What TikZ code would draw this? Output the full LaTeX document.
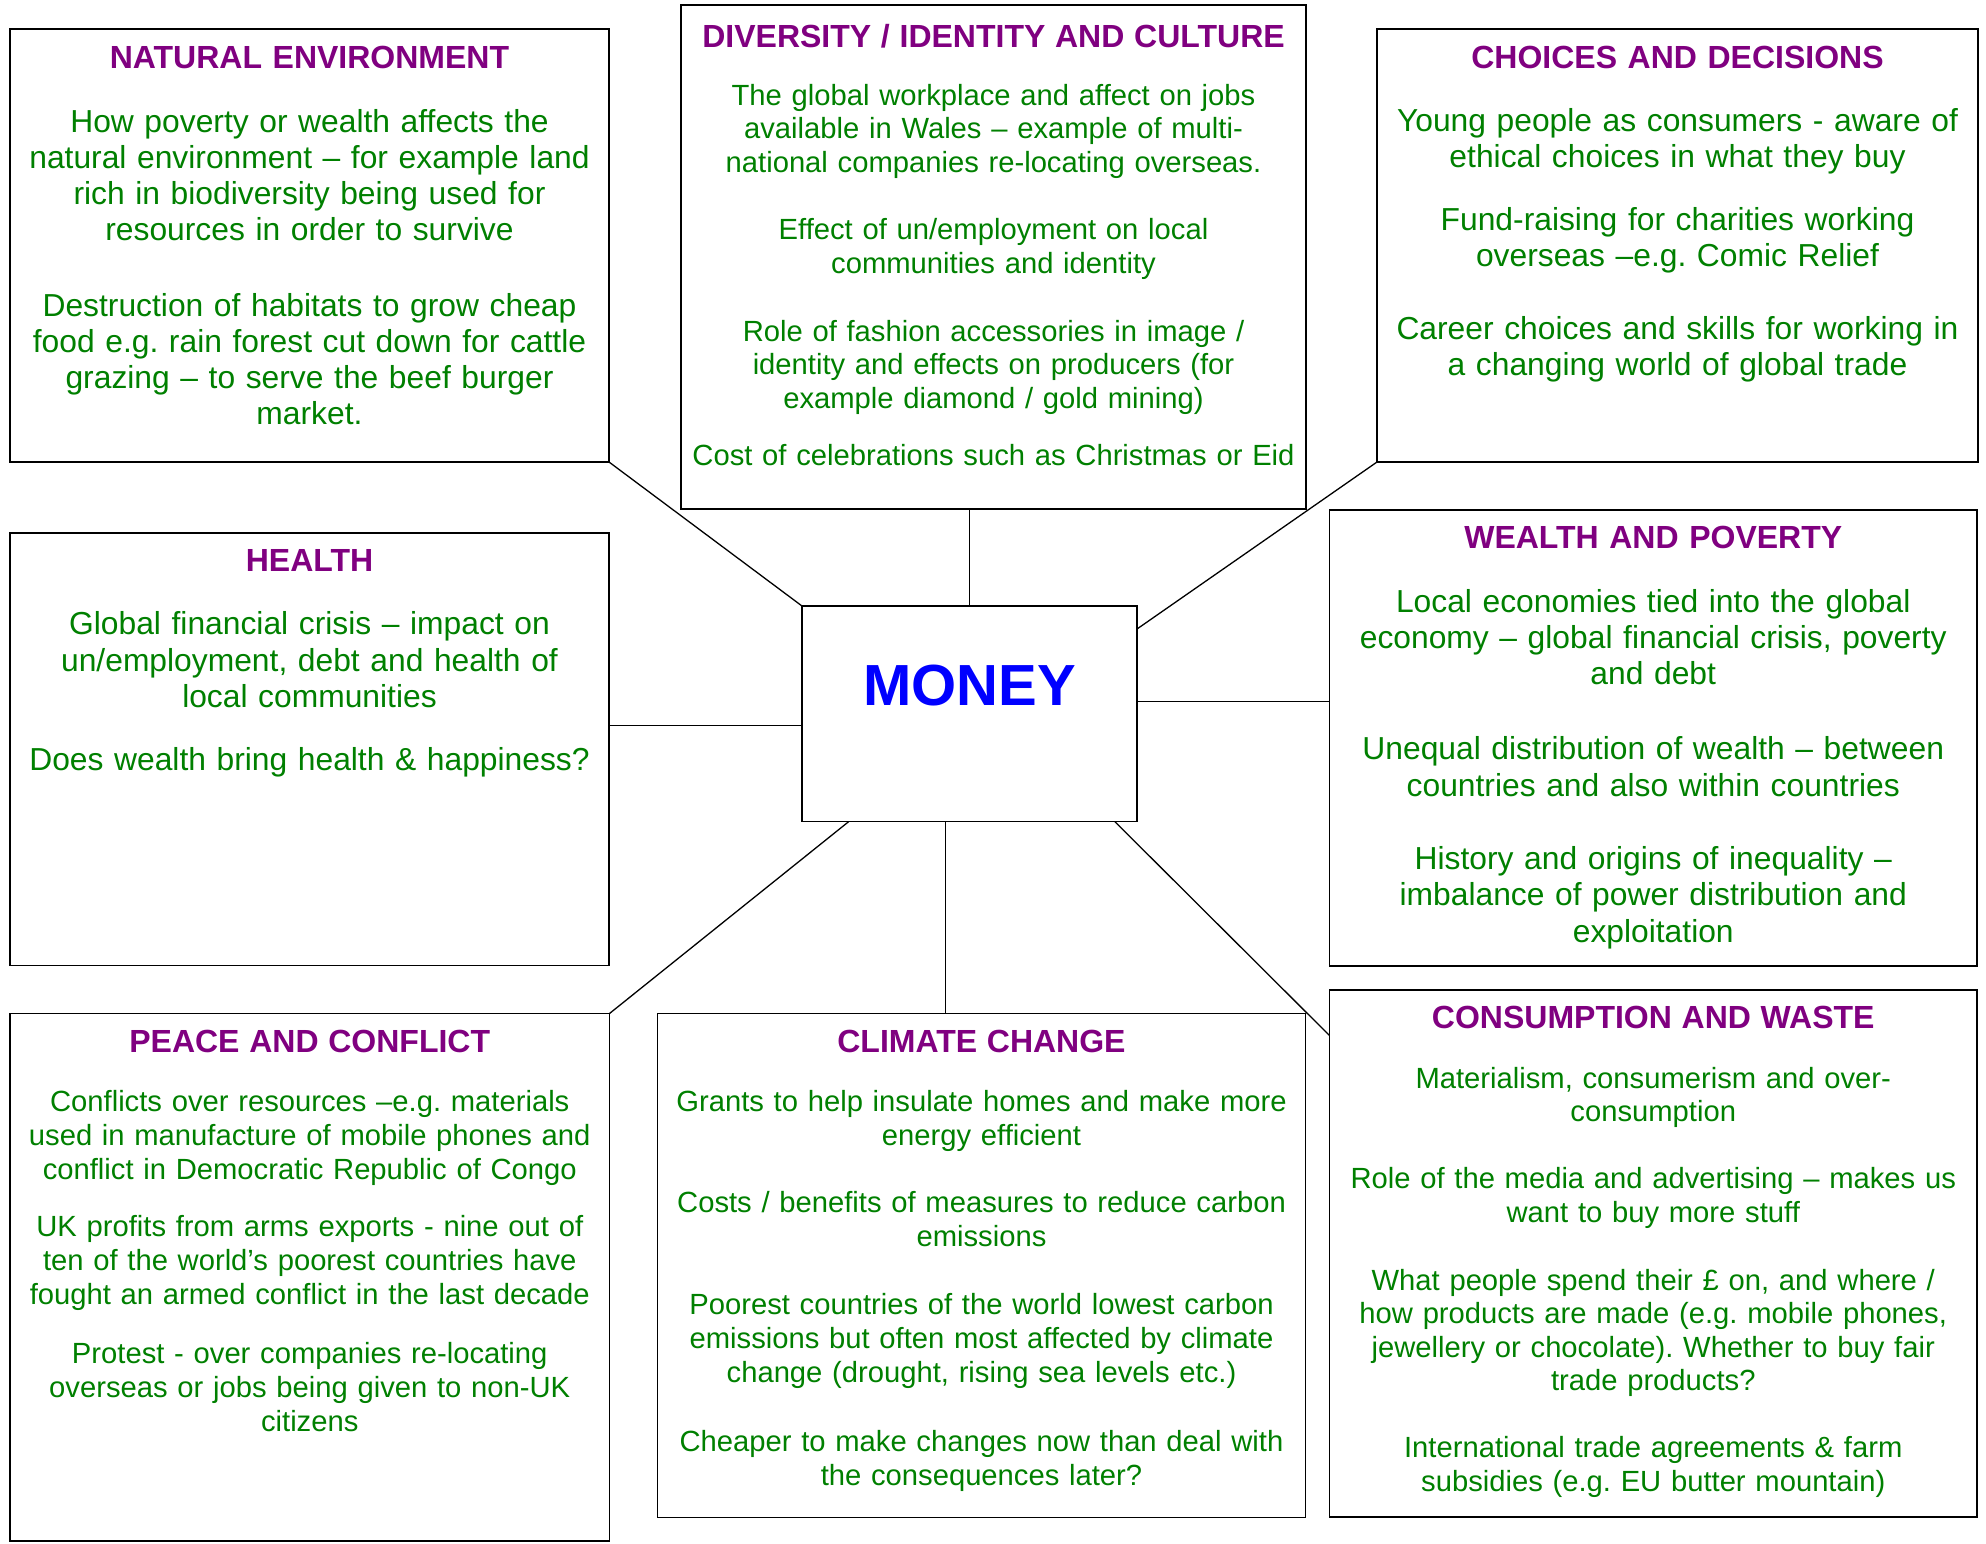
\documentclass[tikz,border=0pt]{standalone}
\usepackage{fontspec}
\setmainfont{Liberation Sans}
\definecolor{titlepurple}{HTML}{800080}
\definecolor{bodygreen}{HTML}{008000}
\definecolor{moneyblue}{HTML}{0000FF}
\newcommand{\topictitle}[1]{{\fontsize{16}{18}\selectfont\bfseries\color{titlepurple}#1}}
\newcommand{\bigbody}{\fontsize{15.9}{18.1}\selectfont}
\newcommand{\smallbody}{\fontsize{14.6}{16.8}\selectfont}
\frenchspacing

\tikzset{
  topic/.style={draw, line width=0.8pt, inner sep=0pt, outer sep=0pt},
  topictext/.style={anchor=north, align=center, inner sep=0pt, text=bodygreen},
  link/.style={line width=0.65pt},
}

\begin{document}
\begin{tikzpicture}[x=0.5pt,y=-0.5pt]
\fill[white] (0,0) rectangle (1986,1543);
\useasboundingbox (0,0) rectangle (1986,1543);

% boxes
\node[topic, minimum width=299.5pt, minimum height=216.5pt] (nature) at (309.5,245.5) {};
\node[topic, minimum width=312.5pt, minimum height=252pt] (diversity) at (993.5,257) {};
\node[topic, minimum width=300.5pt, minimum height=216.5pt] (choices) at (1677.5,245.5) {};
\node[topic, minimum width=299.5pt, minimum height=216.25pt] (health) at (309.5,749.25) {};
\node[topic, minimum width=167.5pt, minimum height=107.8pt] (money) at (969.5,713.8) {};
\node[topic, minimum width=323.75pt, minimum height=227.85pt] (wealth) at (1653.25,737.85) {};
\node[topic, minimum width=299.75pt, minimum height=263.75pt] (peace) at (309.75,1277.25) {};
\node[topic, minimum width=324pt, minimum height=252pt] (climate) at (981.5,1265.5) {};
\node[topic, minimum width=323.75pt, minimum height=263.65pt] (consumption) at (1653.25,1253.35) {};

\node[text=moneyblue, font=\fontsize{29}{34}\selectfont\bfseries] (moneylabel) at ([yshift=13.9pt]money.center) {MONEY};

% spokes
\coordinate (healthjoin) at ([yshift=-5.85pt]money.west);
\coordinate (wealthjoin) at ([yshift=6pt]money.east);
\coordinate (climatejoin) at ([xshift=-12pt]money.south);
\draw[link] (nature.south east) -- (money.north west);
\draw[link] (money.north) -- (money.north |- diversity.south);
\draw[link] (choices.south west) -- ([yshift=-11.5pt]money.north east);
\draw[link] (healthjoin) -- (healthjoin -| health.east);
\draw[link] (wealthjoin) -- (wealthjoin -| wealth.west);
\draw[link] ([xshift=23.35pt]money.south west) -- (peace.north east);
\draw[link] (climatejoin) -- (climatejoin |- climate.north);
\draw[link] ([xshift=-11.1pt]money.south east) -- ([yshift=-22.9pt]consumption.north west);

% texts
\node[topictext, text width=290pt, font=\bigbody] (naturetext) at ([yshift=-8.3pt]nature.north) {\topictitle{NATURAL ENVIRONMENT}\\[13.9pt]
How poverty or wealth affects the\\
natural environment – for example land\\
rich in biodiversity being used for\\
resources in order to survive\\[19.5pt]
Destruction of habitats to grow cheap\\
food e.g. rain forest cut down for cattle\\
grazing – to serve the beef burger\\
market.};

\node[topictext, text width=306pt, font=\fontsize{14.6}{16.7}\selectfont] (diversitytext) at ([yshift=-9.3pt]diversity.north) {\topictitle{DIVERSITY / IDENTITY AND CULTURE}\\[12.4pt]
The global workplace and affect on jobs\\
available in Wales – example of multi-\\
national companies re-locating overseas.\\[17.1pt]
Effect of un/employment on local\\
communities and identity\\[17.5pt]
Role of fashion accessories in image /\\
identity and effects on producers (for\\
example diamond / gold mining)\\[12.1pt]
Cost of celebrations such as Christmas or Eid};

\node[topictext, text width=294pt, font=\fontsize{15.9}{17.8}\selectfont] (choicestext) at ([yshift=-8.3pt]choices.north) {\topictitle{CHOICES AND DECISIONS}\\[14pt]
Young people as consumers - aware of\\
ethical choices in what they buy\\[13.9pt]
Fund-raising for charities working\\
overseas –e.g. Comic Relief\\[18.9pt]
Career choices and skills for working in\\
a changing world of global trade};

\node[topictext, text width=290pt, font=\bigbody] (healthtext) at ([yshift=-8.1pt]health.north) {\topictitle{HEALTH}\\[13.5pt]
Global financial crisis – impact on\\
un/employment, debt and health of\\
local communities\\[13.7pt]
Does wealth bring health \& happiness?};

\node[topictext, text width=318pt, font=\bigbody] (wealthtext) at ([yshift=-8.1pt]wealth.north) {\topictitle{WEALTH AND POVERTY}\\[13.6pt]
Local economies tied into the global\\
economy – global financial crisis, poverty\\
and debt\\[19.5pt]
Unequal distribution of wealth – between\\
countries and also within countries\\[18.7pt]
History and origins of inequality –\\
imbalance of power distribution and\\
exploitation};

\node[topictext, text width=292pt, font=\fontsize{14.6}{16.9}\selectfont] (peacetext) at ([yshift=-8.2pt]peace.north) {\topictitle{PEACE AND CONFLICT}\\[12.6pt]
Conflicts over resources –e.g. materials\\
used in manufacture of mobile phones and\\
conflict in Democratic Republic of Congo\\[11.9pt]
UK profits from arms exports - nine out of\\
ten of the world’s poorest countries have\\
fought an armed conflict in the last decade\\[12.8pt]
Protest - over companies re-locating\\
overseas or jobs being given to non-UK\\
citizens};

\node[topictext, text width=318pt, font=\fontsize{14.6}{16.95}\selectfont] (climatetext) at ([yshift=-8.2pt]climate.north) {\topictitle{CLIMATE CHANGE}\\[12.6pt]
Grants to help insulate homes and make more\\
energy efficient\\[16.3pt]
Costs / benefits of measures to reduce carbon\\
emissions\\[17.2pt]
Poorest countries of the world lowest carbon\\
emissions but often most affected by climate\\
change (drought, rising sea levels etc.)\\[17.75pt]
Cheaper to make changes now than deal with\\
the consequences later?};

\node[topictext, text width=318pt, font=\smallbody] (consumptiontext) at ([yshift=-8.1pt]consumption.north) {\topictitle{CONSUMPTION AND WASTE}\\[13pt]
Materialism, consumerism and over-\\
consumption\\[16.7pt]
Role of the media and advertising – makes us\\
want to buy more stuff\\[17pt]
What people spend their £ on, and where /\\
how products are made (e.g. mobile phones,\\
jewellery or chocolate). Whether to buy fair\\
trade products?\\[16.7pt]
International trade agreements \& farm\\
subsidies (e.g. EU butter mountain)};
\end{tikzpicture}
\end{document}
